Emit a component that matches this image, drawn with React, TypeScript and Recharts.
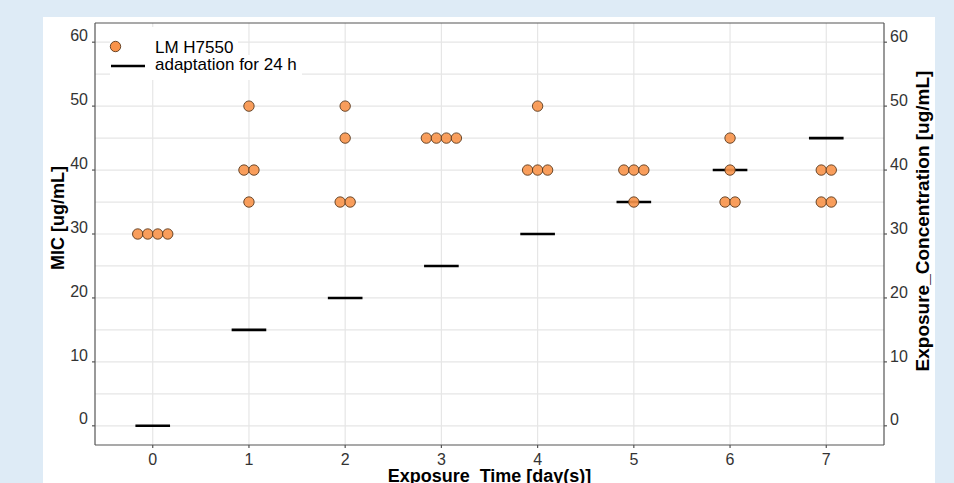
import React from 'react';
import {CartesianGrid, ComposedChart, Legend, Line, ReferenceLine, Scatter, XAxis, YAxis} from 'recharts';

// exposure days on the x axis
const days = [0, 1, 2, 3, 4, 5, 6, 7];
// MIC replicates per day (LM H7550)
const micByDay = [
    [30, 30, 30, 30],
    [50, 40, 40, 35],
    [50, 45, 35, 35],
    [45, 45, 45, 45],
    [50, 40, 40, 40],
    [40, 40, 40, 35],
    [45, 40, 35, 35],
    [40, 40, 35, 35],
];
// exposure concentration used for 24 h adaptation
const adaptationConc = [0, 15, 20, 25, 30, 35, 40, 45];
const yTicks = [0, 10, 20, 30, 40, 50, 60];
const gridY = [0, 5, 10, 15, 20, 25, 30, 35, 40, 45, 50, 55, 60];

const DOT_STEP = 0.104;
const SEG_HALF = 0.18;
const FILL = '#f8934a';
const EDGE = '#5a3a1e';
const AXIS = '#555';

// stack equal values side by side like a dot plot
const micPoints = days.flatMap((d, i) => {
    const vals = micByDay[i];
    const uniq = Array.from(new Set(vals));
    return uniq.flatMap(v => {
        const n = vals.filter(x => x === v).length;
        return Array.from({length: n}, (_, k) => ({x: d + (k - (n - 1) / 2) * DOT_STEP, y: v}));
    });
});

const segments = days.map((d, i) => [
    {x: d - SEG_HALF, y: adaptationConc[i]},
    {x: d + SEG_HALF, y: adaptationConc[i]},
]);

const Dot = (props: any) => (
    <circle cx={props.cx} cy={props.cy} r={5.2} fill={FILL} fillOpacity={0.9} stroke={EDGE} strokeWidth={0.9}/>
);

const LegendBox = () => (
    <svg width={320} height={90} style={{display: 'block'}}>
        <rect x={110} y={27} width={128} height={28} fill="#fff"/>
        <rect x={110} y={55} width={192} height={25} fill="#fff"/>
        <circle cx={115.5} cy={46.5} r={5.2} fill={FILL} stroke={EDGE} strokeWidth={0.9}/>
        <text x={155} y={53} fontSize={17} fill="#000">LM H7550</text>
        <line x1={111} x2={145} y1={66} y2={66} stroke="#000" strokeWidth={2.6}/>
        <text x={155} y={70} fontSize={17} fill="#000">adaptation for 24 h</text>
    </svg>
);

const VTitle = ({x, y, text, size}: {x: number, y: number, text: string, size: number}) => (
    <text x={x} y={y} transform={`rotate(-90 ${x} ${y})`} textAnchor="middle" dominantBaseline="central"
          fontWeight="bold" fontSize={size} fill="#000">{text}</text>
);

const tickStyle = {fontSize: 16, fill: '#333'};

const App = () => {
    return (
        <div style={{position: 'absolute', left: 0, top: 0, width: 954, height: 483, overflow: 'hidden',
            background: '#deebf6', fontFamily: '"Liberation Sans", Arial, sans-serif'}}>
            <div style={{position: 'absolute', left: 43, top: 17, width: 892, height: 480, background: '#fff'}}/>
            <div style={{position: 'absolute', left: 0, top: 0}}>
                <ComposedChart width={954} height={483} margin={{top: 23, right: 20, bottom: 0, left: 45}}>
                    <CartesianGrid xAxisId="x" yAxisId="left" stroke="#e6e6e6" strokeWidth={1.2}
                                   horizontalValues={gridY} verticalValues={days}/>
                    <XAxis xAxisId="x" type="number" dataKey="x" domain={[-0.6, 7.6]} ticks={days}
                           allowDataOverflow height={38} stroke={AXIS} strokeWidth={1.2} tickSize={3}
                           tickMargin={6} tick={tickStyle}
                           label={{value: 'Exposure_Time [day(s)]', position: 'insideBottom', offset: 1,
                               style: {fontWeight: 'bold', fontSize: 18, fill: '#000'}}}/>
                    <YAxis yAxisId="left" type="number" domain={[-3, 63]} ticks={yTicks} allowDataOverflow
                           width={50} stroke={AXIS} strokeWidth={1.2} tickSize={3} tickMargin={4}
                           tick={{...tickStyle, dy: -7}}
                           label={{content: () => <VTitle x={58} y={218} size={18} text="MIC [ug/mL]"/>}}/>
                    <YAxis yAxisId="right" orientation="right" type="number" domain={[-3, 63]} ticks={yTicks}
                           allowDataOverflow width={50} stroke={AXIS} strokeWidth={1.2} tickSize={3}
                           tickMargin={3} tick={{...tickStyle, dy: -6}}
                           label={{content: () => <VTitle x={922} y={221} size={19} text="Exposure_Concentration [ug/mL]"/>}}/>
                    <ReferenceLine xAxisId="x" yAxisId="left" y={63} stroke={AXIS} strokeWidth={1.2}/>
                    {segments.map((seg, i) => (
                        <Line key={i} xAxisId="x" yAxisId="right" data={seg} dataKey="y" type="linear"
                              stroke="#000" strokeWidth={2.6} dot={false} activeDot={false}
                              isAnimationActive={false} legendType="none"/>
                    ))}
                    <Scatter xAxisId="x" yAxisId="left" data={micPoints} dataKey="y" shape={Dot}
                             isAnimationActive={false} name="LM H7550"/>
                    <Legend layout="vertical" align="center" verticalAlign="middle"
                            wrapperStyle={{left: 0, top: 0, width: 320, height: 90}} content={LegendBox}/>
                </ComposedChart>
            </div>
        </div>
    );
};

export default App;
